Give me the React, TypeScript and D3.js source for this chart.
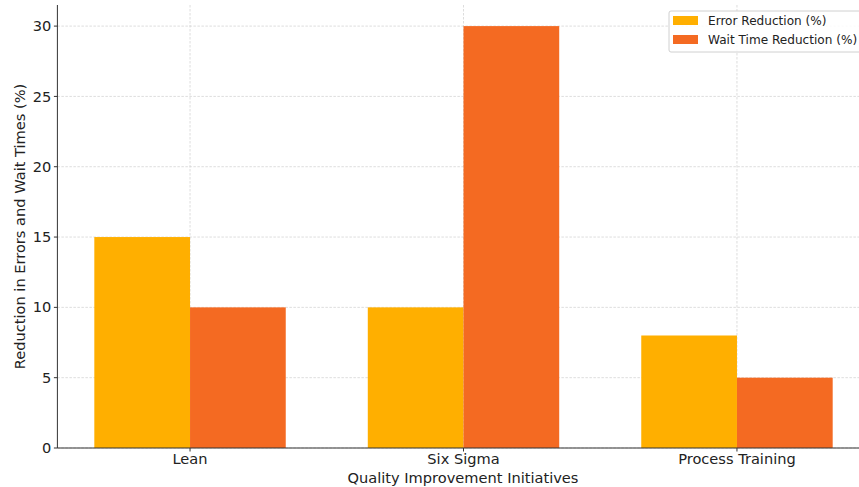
import React from "react";
import * as d3 from "d3";

const categories = ["Lean", "Six Sigma", "Process Training"];
const errorReduction = [15, 10, 8];
const waitReduction = [10, 30, 5];
const yTicks = [0, 5, 10, 15, 20, 25, 30];
const seriesNames = ["Error Reduction (%)", "Wait Time Reduction (%)"];
const seriesColors = ["#FFAF00", "#F46A22"];

const W = 859;
const H = 487;
const left = 57.4;
const right = 869.6;
const top = 5;
const bottom = 448;
const barW = 0.35;

export default function App() {
  const x = d3.scaleLinear().domain([-0.485, 2.485]).range([left, right]);
  const y = d3.scaleLinear().domain([0, 31.5]).range([bottom, top]);
  const font = "DejaVu Sans, sans-serif";
  const series = [errorReduction, waitReduction];
  const fs = 14.6;

  return (
    <svg width={W} height={H} style={{ position: "absolute", left: 0, top: 0, background: "#fff" }} fontFamily={font}>
      {/* grid */}
      {yTicks.map((t) => (
        <line key={"gy" + t} x1={left} x2={right} y1={y(t)} y2={y(t)} stroke="#cfcfcf" strokeWidth={0.7} strokeDasharray="2.5,1.5" />
      ))}
      {categories.map((c, i) => (
        <line key={"gx" + c} x1={x(i)} x2={x(i)} y1={top} y2={bottom} stroke="#cfcfcf" strokeWidth={0.7} strokeDasharray="2.5,1.5" />
      ))}
      {/* bars */}
      {series.map((vals, s) =>
        vals.map((v, i) => {
          const x0 = s === 0 ? x(i - barW) : x(i);
          const x1 = s === 0 ? x(i) : x(i + barW);
          return <rect key={s + "-" + i} x={x0} y={y(v)} width={x1 - x0} height={y(0) - y(v)} fill={seriesColors[s]} />;
        })
      )}
      {/* axes */}
      <line x1={left} x2={left} y1={top} y2={bottom} stroke="#333" strokeWidth={1} />
      <line x1={left} x2={right} y1={bottom} y2={bottom} stroke="#333" strokeWidth={1} />
      {yTicks.map((t) => (
        <g key={"ty" + t}>
          <line x1={left - 3.5} x2={left} y1={y(t)} y2={y(t)} stroke="#333" />
          <text x={left - 6} y={y(t)} dy="0.35em" textAnchor="end" fontSize={fs} fill="#222">{t}</text>
        </g>
      ))}
      {categories.map((c, i) => (
        <g key={"tx" + c}>
          <line x1={x(i)} x2={x(i)} y1={bottom} y2={bottom + 3.5} stroke="#333" />
          <text x={x(i)} y={bottom + 16} textAnchor="middle" fontSize={fs} fill="#222">{c}</text>
        </g>
      ))}
      <text x={463} y={483} textAnchor="middle" fontSize={fs} fill="#222">Quality Improvement Initiatives</text>
      <text transform={`translate(25,${(top + bottom) / 2}) rotate(-90)`} textAnchor="middle" fontSize={fs} fill="#222">
        Reduction in Errors and Wait Times (%)
      </text>
      {/* legend */}
      <rect x={669} y={11} width={195} height={41} rx={2} fill="#fff" fillOpacity={0.85} stroke="#d0d0d0" />
      {seriesNames.map((n, i) => (
        <g key={n}>
          <rect x={673} y={16 + i * 19} width={25} height={9} fill={seriesColors[i]} />
          <text x={708} y={20.5 + i * 19} dy="0.35em" fontSize={12.1} fill="#222">{n}</text>
        </g>
      ))}
    </svg>
  );
}
